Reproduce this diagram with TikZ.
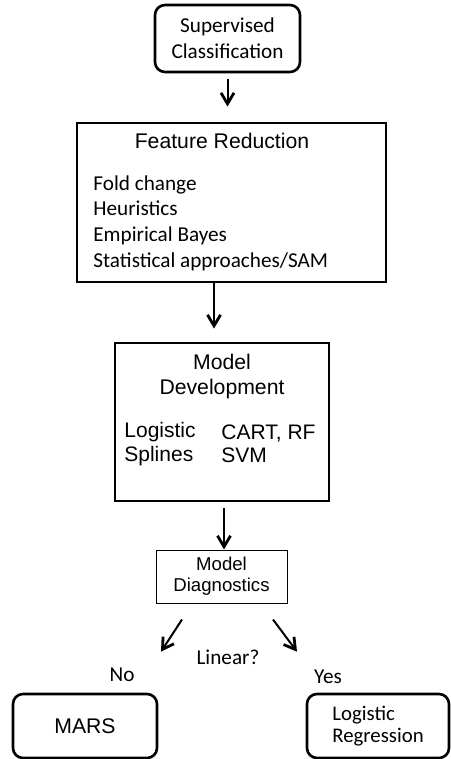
\documentclass[tikz,border=0pt]{standalone}
\usepackage{fontspec}
\setmainfont{Carlito}
\newfontfamily\arialfont{Liberation Sans}
\usetikzlibrary{shapes.geometric, arrows.meta}
\tikzstyle{rbox} = [rectangle, rounded corners=5pt, line width=1.3pt, draw=black, inner sep=0pt]
\tikzstyle{sbox} = [rectangle, line width=1.4pt, draw=black, inner sep=0pt]
\tikzstyle{arrow} = [line width=1pt, -{Straight Barb[length=5.5pt, width=6.5pt, line width=1.4pt]}]
\tikzstyle{cal} = [font=\fontsize{10.6}{13}\selectfont]
\tikzstyle{ari} = [font=\arialfont\fontsize{10.6}{12.5}\selectfont]

\begin{document}
\begin{tikzpicture}[x=0.5pt, y=-0.5pt]
        \useasboundingbox (0,0) rectangle (450,759);
        \node (sc) [rbox, cal, minimum width=72.5pt, minimum height=33.5pt, align=center] at (227.5,38.5) {Supervised\\Classification};

        \node (fr) [sbox, minimum width=154.5pt, minimum height=79.5pt] at (231.5,202.5) {};
        \node (frtitle) [ari] at (222,141) {Feature Reduction};
        \node (fritems) [align=left, anchor=west, inner sep=0pt, font=\fontsize{10.6}{12.85}\selectfont] at (93,223) {Fold change\\Heuristics\\Empirical Bayes\\Statistical approaches/SAM};
        \draw [arrow] ([yshift=-3pt]sc.south) -- ([yshift=7.5pt]sc.south |- fr.north);

        \node (md) [sbox, minimum width=107pt, minimum height=79pt] at (222,422) {};
        \node (mdtitle) [ari, align=center] at (222,377) {Model\\Development};
        \node (mdleft) [align=left, anchor=west, inner sep=0pt, font=\arialfont\fontsize{10.5}{11.7}\selectfont] at (124,444) {Logistic\\Splines};
        \node (mdright) [align=left, anchor=west, inner sep=0pt, font=\arialfont\fontsize{10.5}{11.7}\selectfont] at (221,444) {CART, RF\\SVM};
        \draw [arrow] ([xshift=-8.75pt]fr.south) -- ([xshift=-4pt, yshift=6.5pt]md.north);

        \node (dg) [rectangle, draw=black, line width=0.5pt, minimum width=65.5pt, minimum height=26.5pt, align=center, inner sep=0pt, font=\arialfont\fontsize{9.3}{10.5}\selectfont] at (221.5,576.5) {Model\\Diagnostics};
        \draw [arrow] ([xshift=1pt, yshift=-3pt]md.south) -- ([xshift=1.25pt]dg.north);

        \node (mars) [rbox, ari, minimum width=72pt, minimum height=32pt] at (85,726) {MARS};
        \node (lr) [rbox, align=left, minimum width=71pt, minimum height=32pt, font=\fontsize{10.4}{11}\selectfont] at (378,726) {Logistic\\Regression};

        \draw [arrow] ([xshift=-19.75pt, yshift=-8pt]dg.south) -- ([xshift=38pt, yshift=20.5pt]mars.north);
        \draw [arrow] ([xshift=25.75pt, yshift=-8pt]dg.south) -- ([xshift=-40.5pt, yshift=20.5pt]lr.north);

        \node (lin) [cal] at (228,657) {Linear?};
        \node (no) [cal] at (122,675) {No};
        \node (yes) [cal] at (328,677) {Yes};
\end{tikzpicture}
\end{document}
